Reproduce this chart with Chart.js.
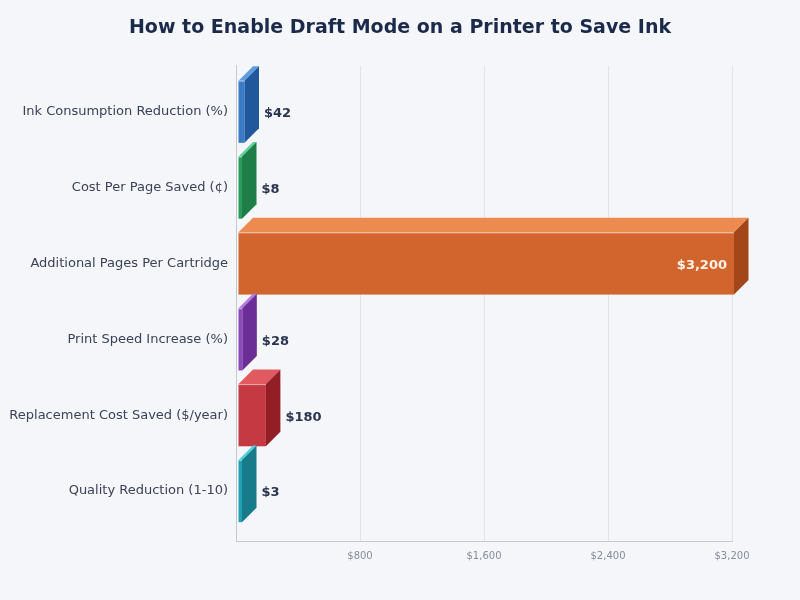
<!DOCTYPE html>
<html>
<head>
<meta charset="utf-8">
<script src="https://cdn.jsdelivr.net/npm/chart.js@4/dist/chart.umd.min.js"></script>
<style>
  html, body { margin: 0; padding: 0; background: #f5f6fa; }
  #wrap { width: 800px; height: 600px; }
</style>
</head>
<body>
<div id="wrap"><canvas id="chart" width="800" height="600"></canvas></div>
<script>
const categories = [
  'Ink Consumption Reduction (%)',
  'Cost Per Page Saved (¢)',
  'Additional Pages Per Cartridge',
  'Print Speed Increase (%)',
  'Replacement Cost Saved ($/year)',
  'Quality Reduction (1-10)',
];
const values = [42, 8, 3200, 28, 180, 3];
const xTicks = [0, 800, 1600, 2400, 3200];

// front / top / side shades per bar
const frontColors = ['#3a7bc8', '#2a9d5c', '#d2652d', '#8e48bd', '#c53a42', '#21a2b3'];
const topColors = ['#5e9edf', '#5fd197', '#ec8a50', '#b577e0', '#e05a60', '#50d0de'];
const sideColors = ['#21589b', '#1f7e47', '#a3461a', '#6b2d96', '#931e26', '#177b89'];

const DEPTH = 14.5;
const SHIFT = 2;

const money = (v) => '$' + Number(v).toLocaleString('en-US');

// squeeze the category band a bit inside the plot area
const bandInset = {
  id: 'bandInset',
  afterLayout(chart) {
    const y = chart.scales.y;
    y._startPixel = y.top + 8;
    y._endPixel = y.bottom - 12;
    y._length = y._endPixel - y._startPixel;
  },
};

const bars3d = {
  id: 'bars3d',
  afterDatasetsDraw(chart) {
    const ctx = chart.ctx;
    const meta = chart.getDatasetMeta(0);
    const maxVal = Math.max(...values);
    meta.data.forEach((bar, i) => {
      const { x, y, base, height } = bar.getProps(['x', 'y', 'base', 'height'], true);
      const left = base + SHIFT;
      const right = x + SHIFT;
      const top = y - height / 2;
      const bottom = y + height / 2;
      const d = DEPTH;

      ctx.save();
      // front
      ctx.fillStyle = frontColors[i];
      ctx.fillRect(left, top, right - left, bottom - top);
      // top face
      ctx.fillStyle = topColors[i];
      ctx.beginPath();
      ctx.moveTo(left, top);
      ctx.lineTo(left + d, top - d);
      ctx.lineTo(right + d, top - d);
      ctx.lineTo(right, top);
      ctx.closePath();
      ctx.fill();
      // side face
      ctx.fillStyle = sideColors[i];
      ctx.beginPath();
      ctx.moveTo(right, top);
      ctx.lineTo(right + d, top - d);
      ctx.lineTo(right + d, bottom - d);
      ctx.lineTo(right, bottom);
      ctx.closePath();
      ctx.fill();
      // highlight edge
      ctx.strokeStyle = 'rgba(255,255,255,0.55)';
      ctx.lineWidth = 1;
      ctx.beginPath();
      ctx.moveTo(left, top + 0.5);
      ctx.lineTo(right, top + 0.5);
      ctx.stroke();

      // value label
      ctx.font = 'bold 13px "DejaVu Sans"';
      ctx.textBaseline = 'middle';
      if (values[i] === maxVal) {
        ctx.fillStyle = '#fff3e8';
        ctx.textAlign = 'right';
        ctx.fillText(money(values[i]), right - 7, y + 2);
      } else {
        ctx.fillStyle = '#2a3350';
        ctx.textAlign = 'left';
        ctx.fillText(money(values[i]), right + d + 5, y + 2);
      }
      ctx.restore();
    });
  },
};

new Chart(document.getElementById('chart'), {
  type: 'bar',
  data: {
    labels: categories,
    datasets: [{
      data: values,
      backgroundColor: 'rgba(0,0,0,0)',
      borderWidth: 0,
      minBarLength: 4,
      categoryPercentage: 1,
      barPercentage: 0.82,
    }],
  },
  options: {
    indexAxis: 'y',
    responsive: false,
    animation: false,
    layout: { padding: { left: 0, right: 0, top: 0, bottom: 29 } },
    plugins: {
      legend: { display: false },
      tooltip: { enabled: false },
      title: {
        display: true,
        text: 'How to Enable Draft Mode on a Printer to Save Ink',
        color: '#1b2a4a',
        font: { family: 'DejaVu Sans', size: 19, weight: 'bold' },
        padding: { top: 17, bottom: 26 },
      },
    },
    scales: {
      x: {
        min: xTicks[0],
        max: xTicks[xTicks.length - 1],
        afterBuildTicks: (scale) => { scale.ticks = xTicks.map((v) => ({ value: v })); },
        grid: { color: '#dfe2e8', drawTicks: false },
        border: { color: '#c5c9d1' },
        ticks: {
          padding: 9,
          color: '#858d9c',
          font: { family: 'DejaVu Sans', size: 10 },
          callback: (v) => (v === 0 ? '' : money(v)),
        },
      },
      y: {
        grid: { display: false, drawTicks: false },
        border: { color: '#c5c9d1' },
        ticks: {
          padding: 8,
          color: '#3a4258',
          font: { family: 'DejaVu Sans', size: 13 },
        },
        afterFit: (scale) => { scale.width = 236; },
      },
      // empty right-hand gutter
      yRight: {
        type: 'category',
        position: 'right',
        grid: { display: false, drawTicks: false },
        border: { display: false },
        ticks: { display: false },
        afterFit: (scale) => { scale.width = 68; },
      },
    },
  },
  plugins: [bandInset, bars3d],
});
</script>
</body>
</html>
